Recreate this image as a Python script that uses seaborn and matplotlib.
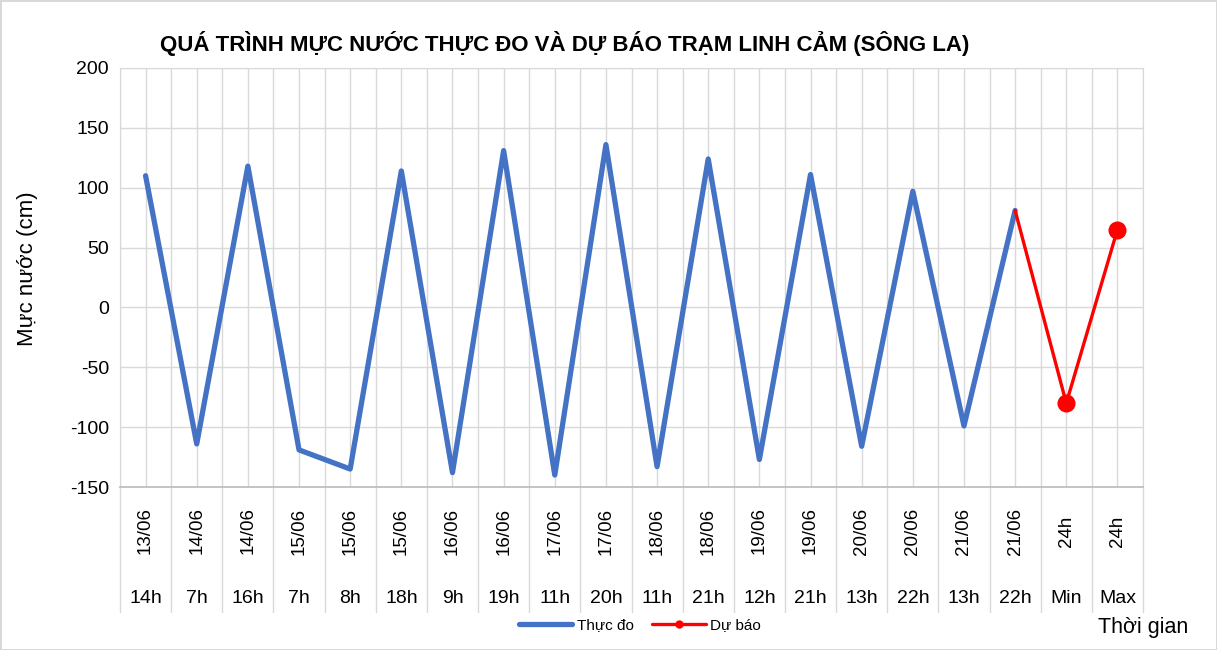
import numpy as np
import pandas as pd
import matplotlib
matplotlib.use("Agg")
import matplotlib.pyplot as plt
import matplotlib.transforms as mtransforms
from matplotlib.lines import Line2D
import seaborn as sns

# data
dates = ["13/06", "14/06", "14/06", "15/06", "15/06", "15/06", "16/06", "16/06", "17/06", "17/06",
         "18/06", "18/06", "19/06", "19/06", "20/06", "20/06", "21/06", "21/06", "24h", "24h"]
hours = ["14h", "7h", "16h", "7h", "8h", "18h", "9h", "19h", "11h", "20h",
         "11h", "21h", "12h", "21h", "13h", "22h", "13h", "22h", "Min", "Max"]
thuc_do = [110, -114, 118, -119, -135, 114, -138, 131, -140, 136,
           -133, 124, -127, 111, -116, 97, -99, 81]
du_bao = [81, -80, 65]

n = len(hours)
x = np.arange(n)
df_obs = pd.DataFrame({"x": x[:len(thuc_do)], "y": thuc_do})
df_fc = pd.DataFrame({"x": x[len(thuc_do) - 1:], "y": du_bao})

sns.set_style("white")
plt.rcParams["font.family"] = ["Liberation Sans", "DejaVu Sans"]
plt.rcParams["axes.unicode_minus"] = False
plt.rcParams["text.color"] = "black"
plt.rcParams["axes.labelcolor"] = "black"
plt.rcParams["ytick.color"] = "black"

fig = plt.figure(figsize=(12.17, 6.5), dpi=100)
ax = fig.add_axes([120 / 1217, 1 - 487 / 650, 1023 / 1217, 419 / 650])

sns.lineplot(data=df_obs, x="x", y="y", ax=ax, color="#4472C4", linewidth=3.8,
             solid_capstyle="round", solid_joinstyle="round", legend=False)
sns.lineplot(data=df_fc, x="x", y="y", ax=ax, color="#FF0000", linewidth=2.4,
             marker="o", markersize=13, markeredgewidth=0, markevery=[1, 2],
             legend=False)

ax.set_xlim(-0.5, n - 0.5)
ax.set_ylim(-150, 200)
ax.set_yticks(np.arange(-150, 201, 50))
ax.tick_params(axis="y", labelsize=14, length=0, pad=8)
ax.set_xticks(np.arange(-0.5, n, 1))
ax.set_xticklabels([])
ax.set_xticks(np.arange(0, n, 1), minor=True)
ax.tick_params(axis="x", which="major", length=5, color="#bfbfbf", width=1)
ax.tick_params(axis="x", which="minor", length=0)
ax.grid(True, which="both", color="#d9d9d9", linewidth=1)
ax.set_axisbelow(True)
for s in ["left", "top", "right"]:
    ax.spines[s].set_color("#d9d9d9")
ax.spines["bottom"].set_color("#bfbfbf")
ax.spines["bottom"].set_linewidth(1.3)
ax.set_xlabel("")
ax.set_ylabel("Mực nước (cm)", fontsize=16)
ax.yaxis.set_label_coords(-0.08, 0.52)

# two-level category axis
trans = mtransforms.blended_transform_factory(ax.transData, ax.transAxes)
for i in range(n):
    ax.text(i, -0.105, dates[i], transform=trans, rotation=90, ha="center", va="center",
            fontsize=13.5)
    ax.text(i, -0.265, hours[i], transform=trans, ha="center", va="center", fontsize=14)
for b in np.arange(-0.5, n, 1):
    ax.plot([b, b], [0, -0.298], transform=trans, color="#d9d9d9", linewidth=1,
            clip_on=False)

handles = [Line2D([], [], color="#4472C4", linewidth=3.8),
           Line2D([], [], color="#FF0000", linewidth=2.4, marker="o", markersize=6,
                  markeredgewidth=0)]
fig.legend(handles, ["Thực đo", "Dự báo"], loc="center",
           bbox_to_anchor=(640 / 1217, 1 - 625 / 650), ncol=2,
           frameon=False, handlelength=3.5, columnspacing=1.2, handletextpad=0.3,
           prop={"size": 11})

fig.text(565 / 1217, 1 - 43 / 650,
         "QUÁ TRÌNH MỰC NƯỚC THỰC ĐO VÀ DỰ BÁO TRẠM LINH CẢM (SÔNG LA)",
         ha="center", va="center", fontsize=16, fontweight="bold")
fig.text(1143 / 1217, 1 - 628 / 650, "Thời gian", ha="center", va="center", fontsize=15.5)

fig.patch.set_edgecolor("#d9d9d9")
fig.patch.set_linewidth(2)

fig.savefig("out.png", dpi=100, edgecolor=fig.get_edgecolor())
